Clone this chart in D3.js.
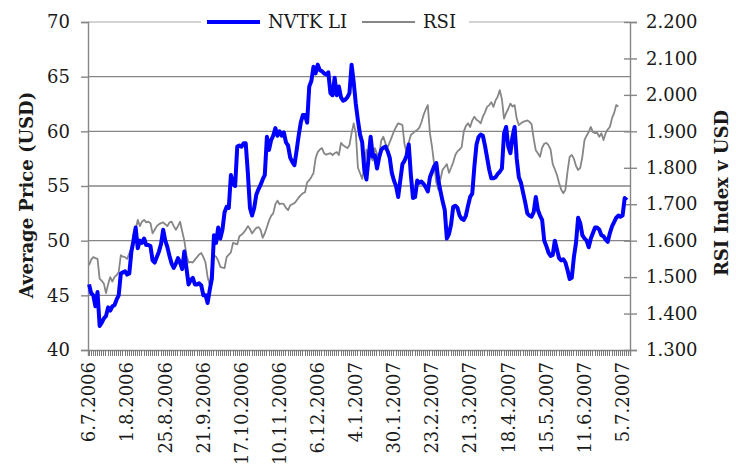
<!DOCTYPE html>
<html>
<head>
<meta charset="utf-8">
<script src="https://cdn.jsdelivr.net/npm/d3@7/dist/d3.min.js"></script>
<style>
  html, body { margin: 0; padding: 0; background: #ffffff; }
  svg { display: block; }
  text { font-family: "DejaVu Serif", serif; fill: #1a1a1a; }
</style>
</head>
<body>
<svg id="chart" width="736" height="464"></svg>
<script>
// ---- Data ----
const seriesNames = ["NVTK LI", "RSI"];

// NVTK LI average price, USD (left axis), one value per trading day from 6.7.2006
const nvtk = [
  46.0,45.2,45.0,44.0,45.3,42.2,42.5,42.9,43.1,43.9,
  43.6,44.0,44.1,44.6,45.0,47.0,47.1,47.2,46.9,47.0,
  49.0,50.0,51.2,49.3,50.0,49.8,50.2,49.6,49.6,49.5,
  48.2,48.0,48.5,49.0,49.7,51.0,50.0,49.4,48.6,47.9,
  47.5,47.9,48.4,48.0,47.4,49.0,47.5,46.0,46.4,46.6,
  46.0,46.0,46.1,45.9,45.0,45.0,44.3,45.5,46.5,50.5,
  49.8,51.2,50.2,51.0,52.6,53.1,53.0,56.0,55.2,55.0,
  58.6,58.7,58.6,58.9,58.9,56.2,53.0,52.3,53.0,54.2,
  54.7,55.1,55.6,56.0,59.5,58.3,59.2,59.6,60.3,59.6,
  60.0,59.6,59.9,59.0,58.7,57.6,57.2,56.9,58.2,59.6,
  60.8,61.5,61.5,60.8,64.1,64.6,65.9,65.3,66.1,65.6,
  65.5,65.3,65.2,65.4,63.5,63.3,64.9,63.3,64.1,63.1,
  62.8,62.9,63.1,63.5,66.1,64.5,62.5,61.0,59.7,59.0,
  56.5,55.6,57.5,59.5,57.7,57.8,56.6,57.6,58.3,58.5,
  58.6,58.2,57.6,56.2,55.5,55.0,54.0,55.5,57.0,57.3,
  57.8,58.8,56.0,53.9,54.0,55.5,55.3,55.4,55.2,54.9,
  54.5,55.8,56.3,56.8,57.1,55.5,54.5,53.6,52.8,50.2,
  50.6,51.5,53.1,53.2,53.0,52.3,52.0,51.9,52.3,53.2,
  54.0,54.3,56.8,58.8,59.5,59.7,59.6,58.7,57.6,56.5,
  55.7,55.7,55.8,56.1,56.3,56.6,59.8,60.4,58.6,58.0,
  59.5,60.4,57.5,55.8,55.3,54.4,53.5,52.5,52.3,52.2,
  52.6,54.0,52.8,52.3,51.9,50.0,49.5,48.9,48.6,48.7,
  50.0,49.2,48.4,48.2,48.3,48.0,47.3,46.5,46.6,48.5,
  49.8,52.1,51.6,50.5,50.2,50.0,49.4,50.2,50.7,51.2,
  51.2,51.0,50.5,50.4,50.1,49.9,50.7,51.3,51.7,52.1,
  52.3,52.2,52.3,53.9,53.7
];

// RSI index v USD (right axis)
const rsi = [
  1.533,1.548,1.555,1.552,1.550,1.495,1.490,1.482,1.456,1.480,
  1.500,1.488,1.500,1.505,1.514,1.560,1.556,1.555,1.550,1.565,
  1.580,1.620,1.630,1.657,1.640,1.652,1.657,1.650,1.652,1.648,
  1.620,1.630,1.640,1.645,1.648,1.650,1.645,1.640,1.650,1.652,
  1.640,1.630,1.640,1.652,1.625,1.600,1.560,1.540,1.542,1.540,
  1.548,1.555,1.562,1.566,1.555,1.540,1.500,1.478,1.530,1.560,
  1.556,1.545,1.528,1.526,1.525,1.555,1.562,1.568,1.594,1.592,
  1.590,1.612,1.616,1.622,1.630,1.640,1.632,1.620,1.628,1.635,
  1.637,1.630,1.608,1.620,1.637,1.655,1.668,1.675,1.700,1.710,
  1.700,1.702,1.700,1.690,1.684,1.697,1.700,1.703,1.710,1.718,
  1.725,1.730,1.733,1.760,1.766,1.775,1.785,1.826,1.843,1.850,
  1.854,1.840,1.836,1.838,1.840,1.835,1.840,1.843,1.835,1.868,
  1.862,1.858,1.854,1.862,1.895,1.922,1.895,1.800,1.785,1.770,
  1.800,1.850,1.840,1.830,1.820,1.854,1.838,1.830,1.875,1.885,
  1.867,1.855,1.870,1.885,1.900,1.912,1.922,1.920,1.917,1.865,
  1.840,1.870,1.890,1.895,1.900,1.904,1.910,1.925,1.945,1.960,
  1.972,1.895,1.857,1.810,1.760,1.740,1.770,1.795,1.802,1.810,
  1.786,1.800,1.815,1.835,1.845,1.850,1.857,1.900,1.915,1.922,
  1.912,1.930,1.940,1.932,1.928,1.922,1.940,1.952,1.967,1.972,
  1.980,1.967,1.985,1.995,2.013,1.988,1.935,1.950,1.962,1.976,
  1.968,1.972,1.935,1.917,1.922,1.926,1.928,1.930,1.926,1.920,
  1.880,1.848,1.840,1.830,1.855,1.866,1.868,1.862,1.850,1.810,
  1.796,1.780,1.758,1.740,1.730,1.740,1.790,1.830,1.835,1.825,
  1.805,1.794,1.800,1.830,1.876,1.888,1.898,1.912,1.898,1.895,
  1.896,1.885,1.895,1.876,1.895,1.905,1.912,1.936,1.950,1.972,
  1.968
];

const categoryCount = 256;
const dateLabels = ["6.7.2006","1.8.2006","25.8.2006","21.9.2006","17.10.2006","10.11.2006",
  "6.12.2006","4.1.2007","30.1.2007","23.2.2007","21.3.2007","18.4.2007","15.5.2007",
  "11.6.2007","5.7.2007"];
const dateLabelIndex = [0,18,36,54,72,90,108,126,144,162,180,198,216,234,252];
const leftTicks = [40,45,50,55,60,65,70];
const rightTicks = [1.3,1.4,1.5,1.6,1.7,1.8,1.9,2.0,2.1,2.2];

// ---- Layout ----
const svg = d3.select("#chart");
const L = 88, R = 630, T = 22, B = 350;
const axisColor = "#868686";

const x = d3.scaleBand().domain(d3.range(categoryCount)).range([L, R]).paddingInner(0).paddingOuter(0);
const bw = x.bandwidth();
const yL = d3.scaleLinear().domain([40, 70]).range([B, T]);
const yR = d3.scaleLinear().domain([1.3, 2.2]).range([B, T]);

// gridlines
svg.append("g").selectAll("line").data(leftTicks.filter(v => v > 40)).join("line")
  .attr("x1", L).attr("x2", R)
  .attr("y1", d => yL(d)).attr("y2", d => yL(d))
  .attr("stroke", d => d === 70 ? "#c4c4c4" : axisColor)
  .attr("stroke-width", 1.4);

// left axis
const gL = svg.append("g").attr("transform", `translate(${L},0)`)
  .call(d3.axisLeft(yL).tickValues(leftTicks).tickSize(7).tickPadding(11).tickFormat(d3.format("d")));
gL.select(".domain").attr("stroke", axisColor).attr("stroke-width", 1.4);
gL.selectAll(".tick line").attr("stroke", axisColor).attr("stroke-width", 1.4);
gL.selectAll("text").attr("font-size", 18).attr("font-family", "DejaVu Serif").attr("fill", "#1a1a1a");

// right axis
const gR = svg.append("g").attr("transform", `translate(${R},0)`)
  .call(d3.axisRight(yR).tickValues(rightTicks).tickSize(7).tickPadding(9).tickFormat(d3.format(".3f")));
gR.select(".domain").attr("stroke", axisColor).attr("stroke-width", 1.4);
gR.selectAll(".tick line").attr("x1", -6).attr("stroke", axisColor).attr("stroke-width", 1.4);
gR.selectAll("text").attr("font-size", 18).attr("font-family", "DejaVu Serif").attr("fill", "#1a1a1a");

// bottom axis with a tick per category
const gB = svg.append("g").attr("transform", `translate(0,${B})`)
  .call(d3.axisBottom(x).tickValues(d3.range(categoryCount)).tickSize(6).tickFormat(""));
gB.select(".domain").attr("stroke", axisColor).attr("stroke-width", 1.4);
gB.selectAll(".tick line").attr("stroke", "#7a7a7a").attr("stroke-width", 1).attr("shape-rendering", "crispEdges");

// date labels, rotated
svg.append("g").selectAll("text").data(dateLabels).join("text")
  .attr("transform", (d, i) => `translate(${x(dateLabelIndex[i]) + bw / 2},362) rotate(-90)`)
  .attr("text-anchor", "end")
  .attr("dy", "0.35em")
  .attr("font-size", 18)
  .text(d => d);

// series lines
const lineL = d3.line().x((d, i) => x(i) + bw / 2).y(d => yL(d));
const lineR = d3.line().x((d, i) => x(i) + bw / 2).y(d => yR(d));

svg.append("path").datum(rsi).attr("d", lineR)
  .attr("fill", "none").attr("stroke", "#868686").attr("stroke-width", 1.8).attr("stroke-linejoin", "round");
svg.append("path").datum(nvtk).attr("d", lineL)
  .attr("fill", "none").attr("stroke", "#0000ff").attr("stroke-width", 4).attr("stroke-linejoin", "round");

// axis titles
svg.append("text")
  .attr("transform", `translate(27,${(T + B) / 2 + 9}) rotate(-90)`)
  .attr("text-anchor", "middle").attr("dy", "0.35em")
  .attr("font-size", 18).attr("font-weight", "bold")
  .text("Average Price (USD)");
svg.append("text")
  .attr("transform", `translate(722,${(T + B) / 2 + 7}) rotate(-90)`)
  .attr("text-anchor", "middle").attr("dy", "0.35em")
  .attr("font-size", 18).attr("font-weight", "bold")
  .text("RSI Index v USD");

// legend
const lg = svg.append("g");
lg.append("rect").attr("x", 201).attr("y", 10).attr("width", 268).attr("height", 24).attr("fill", "#ffffff");
lg.append("line").attr("x1", 207).attr("x2", 260).attr("y1", 22).attr("y2", 22)
  .attr("stroke", "#0000ff").attr("stroke-width", 4);
lg.append("text").attr("x", 268).attr("y", 28).attr("font-size", 18).text(seriesNames[0]);
lg.append("line").attr("x1", 362).attr("x2", 415).attr("y1", 22).attr("y2", 22)
  .attr("stroke", "#868686").attr("stroke-width", 1.8);
lg.append("text").attr("x", 423).attr("y", 28).attr("font-size", 18).text(seriesNames[1]);
</script>
</body>
</html>
